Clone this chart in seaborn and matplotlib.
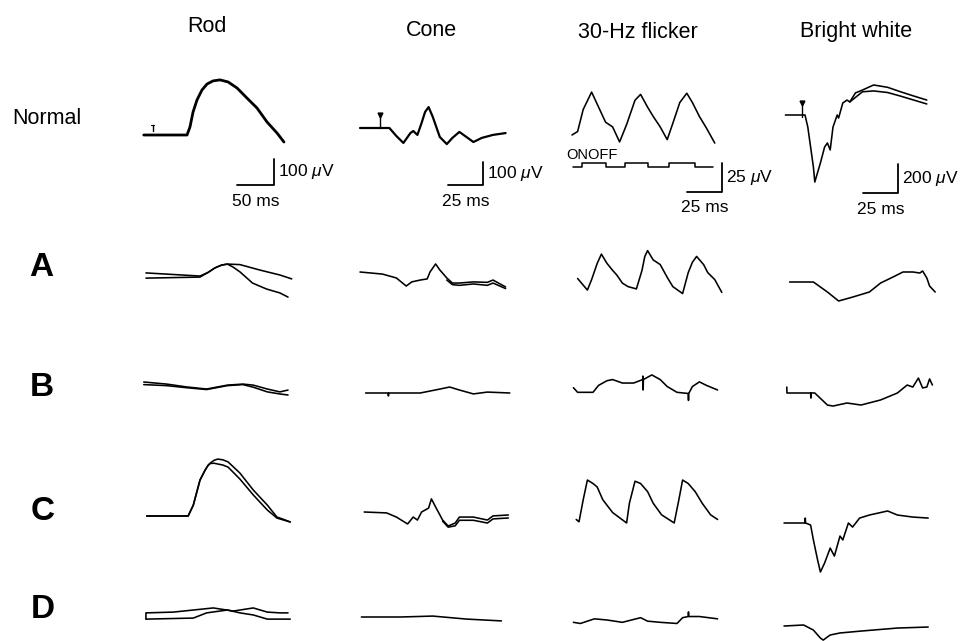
import matplotlib
matplotlib.use("Agg")
import matplotlib.pyplot as plt
import seaborn as sns

sns.set_style("white")
plt.rcParams["font.family"] = ["Liberation Sans", "DejaVu Sans"]
plt.rcParams["text.color"] = "black"
plt.rcParams["mathtext.fontset"] = "custom"
plt.rcParams["mathtext.rm"] = "Liberation Sans"
plt.rcParams["mathtext.it"] = "Liberation Sans:italic"

W, H = 969, 641

# ---------------------------------------------------------------- labels
columns = ["Rod", "Cone", "30-Hz flicker", "Bright white"]
rows = ["Normal", "A", "B", "C", "D"]

# calibration bars: time (ms) and amplitude (µV) per column
scale_ms = [50, 25, 25, 25]
scale_uv = [100, 100, 25, 200]
scale_ms_text = ["50 ms", "25 ms", "25 ms", "25 ms"]
scale_uv_text = [r"100 $\mu$V", r"100 $\mu$V", r"25 $\mu$V", r"200 $\mu$V"]

# ---------------------------------------------------------------- sweeps
# time in ms from the start of the sweep, amplitude in µV from baseline
# Rod
rod_n_t = [1, 13, 59.5, 63.5, 67.6, 73, 79.7, 86.5, 94.6, 104, 115, 127, 140.5, 154, 167.6, 181, 190.5]
rod_n_v = [0, 0, 0, 31, 88, 135, 173, 196, 208, 212, 204, 181, 142, 104, 50, 8, -27]
rod_a1_t = [4, 77, 88, 97, 106, 114, 131, 158, 185, 201]
rod_a1_v = [8, -4, 10, 27, 38, 42, 40, 19, 0, -15]
rod_a2_t = [4, 77, 88, 97, 106, 114, 122, 131, 148, 167, 185, 196]
rod_a2_v = [-12, -8, 10, 27, 38, 42, 30, 12, -31, -54, -69, -85]
rod_b1_t = [1, 32, 59, 86, 114, 135, 149, 168, 185, 196]
rod_b1_v = [0, -8, -19, -27, -12, -8, -12, -27, -38, -31]
rod_b2_t = [1, 32, 59, 86, 114, 135, 149, 168, 185, 196]
rod_b2_v = [-10, -14, -22, -29, -14, -10, -20, -38, -46, -50]
rod_c1_t = [5, 61, 68, 77, 84, 88, 91, 96, 101, 108, 115, 131, 149, 168, 181, 189, 199]
rod_c1_v = [0, 0, 42, 138, 177, 195, 204, 214, 219, 216, 208, 165, 100, 42, -4, -12, -23]
rod_c2_t = [5, 61, 68, 77, 84, 88, 91, 96, 101, 108, 115, 131, 149, 168, 181, 199]
rod_c2_v = [0, 0, 42, 138, 177, 195, 202, 203, 200, 196, 188, 142, 81, 23, -8, -23]
rod_d1_t = [4, 4, 41, 95, 122, 149, 168, 185, 196]
rod_d1_v = [-12, 12, 15, 31, 19, 31, 15, 12, 12]
rod_d2_t = [4, 68, 86, 114, 131, 149, 168, 199]
rod_d2_v = [-12, -8, 12, 23, 12, 4, -12, -12]

# Cone
cone_n_t = [0, 14, 21, 26, 31, 36, 38, 41, 44, 46.5, 49, 52, 57, 62, 66, 71, 76, 81, 87, 95, 104]
cone_n_v = [0, 0, 0, -35, -65, -22, -13, -30, 22, 70, 91, 48, -39, -70, -43, -17, -39, -61, -43, -30, -22]
cone_a1_t = [0, 16, 26, 33, 37, 43, 48, 50, 54, 57, 62, 66, 71, 81, 91, 95, 104]
cone_a1_v = [0, -9, -26, -61, -43, -35, -30, 0, 35, 9, -26, -48, -48, -43, -45, -35, -65]
cone_a2_t = [62, 66, 71, 81, 91, 95, 104]
cone_a2_v = [-35, -55, -58, -52, -58, -48, -72]
cone_b_t = [4, 20, 20.3, 20.6, 43, 57, 64, 71, 81, 91, 107]
cone_b_v = [0, 0, -13, 0, 0, 17, 26, 13, -4, 4, 0]
cone_c1_t = [3, 19, 26, 34, 38, 41, 44, 49, 51, 54, 59, 63, 68, 71, 81, 91, 95, 106]
cone_c1_v = [0, -4, -22, -52, -22, -35, 0, 17, 57, 22, -35, -61, -48, -22, -22, -35, -17, -13]
cone_c2_t = [59, 63, 68, 71, 81, 91, 95, 106]
cone_c2_v = [-40, -66, -60, -36, -36, -48, -30, -26]
cone_d_t = [1, 29, 52, 76, 101]
cone_d_v = [0, 0, 4, -9, -17]

# 30-Hz flicker
flk_n_t = [0, 4, 8, 14, 19, 24, 29, 34, 39, 45, 49, 54, 58, 63, 68, 72, 77, 82, 86, 91, 96, 102]
flk_n_v = [0, 3, 22, 37, 24, 11, 7, -6, 9, 30, 35, 24, 16, 7, -4, 10, 28, 36, 28, 16, 6, -7]
flk_a_t = [4, 11, 14, 18, 21, 25, 29, 32, 36, 40, 46, 50, 52, 54, 58, 63, 68, 72, 79, 83,
           86, 89, 94, 97, 102, 107]
flk_a_v = [-3, -13, -4, 10, 18, 10, 4, 0, -7, -10, -12, 4, 16, 21, 13, 9, -2, -10, -16, 2,
           11, 16, 9, 2, -4, -15]
flk_b_t = [1, 4, 15, 19, 25, 29, 36, 44, 50.5, 50.6, 50.8, 51, 57, 63, 68, 75, 83, 83.2, 83.4,
           86, 91, 96, 104]
flk_b_v = [2, -2, -2, 4, 8, 9, 6, 6, 9, 12, 0, 9, 13, 9, 3, -2, -3, -9, -3, 3, 7, 4, 0]
flk_c_t = [3, 5, 8, 11, 15, 18, 22, 29, 39, 41, 45, 49, 54, 58, 64, 73, 76, 79, 83, 88, 93, 99, 104]
flk_c_v = [-3, -5, 14, 31, 28, 25, 14, 3, -6, 11, 30, 28, 21, 11, 1, -6, 12, 31, 28, 21, 11, 1, -3]
flk_d_t = [1, 6, 16, 25, 36, 49, 54, 63, 75, 79, 83, 83.2, 83.4, 91, 104]
flk_d_v = [-2, -3, 1, 0, -2, 2, -1, -2, -3, 2, 3, 7, 3, 3, 1]

# flicker stimulus monitor: switching times (ms) and state (1 = ON)
flk_stim_t = [1, 7, 24, 38, 54, 69, 88, 101]
flk_stim_on = [0, 1, 0, 1, 0, 1, 0, 0]
flk_stim_level = [-28, -24]

# Bright white
brt_n1_t = [1, 15, 17, 21, 22, 26, 29, 31, 33, 35, 38, 39, 42, 45, 47, 51, 56, 64, 74, 83, 92, 102]
brt_n1_v = [0, 0, -83, -359, -462, -331, -221, -193, -241, -83, 0, -21, 83, 103, 90, 152, 172,
            207, 191, 161, 133, 103]
brt_n2_t = [47, 56, 64, 74, 83, 92, 102]
brt_n2_v = [90, 160, 166, 155, 131, 105, 76]
brt_a_t = [4, 21, 31, 39, 49, 61, 69, 78, 85, 92, 97, 99, 102, 104, 108]
brt_a_v = [0, 0, -69, -131, -104, -69, -7, 35, 69, 69, 62, 76, 28, -28, -69]
brt_b_t = [2, 2.1, 19, 19.2, 19.4, 22, 31, 35, 45, 55, 69, 81, 88, 92, 96, 99, 102, 104, 106]
brt_b_v = [41, 0, 0, -35, 0, 0, -83, -90, -69, -83, -48, 0, 55, 41, 103, 35, 41, 97, 55]
brt_c_t = [0, 15, 15.2, 15.4, 19, 21, 24, 26, 29, 33, 36, 40, 42, 46, 49, 54, 61, 74, 81, 92, 103]
brt_c_v = [0, 0, 34, 0, -14, -117, -255, -338, -276, -173, -228, -90, -117, 0, -28, 34, 55, 83,
           55, 41, 34]
brt_d_t = [0, 14, 21, 26, 28, 33, 40, 56, 81, 103]
brt_d_v = [-7, 0, -35, -90, -104, -69, -55, -41, -21, -14]

# stimulus markers on the normal sweeps: time (ms), tick bottom/top (µV)
stim_t = [13, 14, None, 13]
stim_lo = [15, 0, None, -15]
stim_hi = [40, 55, None, 83]

traces = {
    ("Normal", "Rod"): [(rod_n_t, rod_n_v)],
    ("A", "Rod"): [(rod_a1_t, rod_a1_v), (rod_a2_t, rod_a2_v)],
    ("B", "Rod"): [(rod_b1_t, rod_b1_v), (rod_b2_t, rod_b2_v)],
    ("C", "Rod"): [(rod_c1_t, rod_c1_v), (rod_c2_t, rod_c2_v)],
    ("D", "Rod"): [(rod_d1_t, rod_d1_v), (rod_d2_t, rod_d2_v)],
    ("Normal", "Cone"): [(cone_n_t, cone_n_v)],
    ("A", "Cone"): [(cone_a1_t, cone_a1_v), (cone_a2_t, cone_a2_v)],
    ("B", "Cone"): [(cone_b_t, cone_b_v)],
    ("C", "Cone"): [(cone_c1_t, cone_c1_v), (cone_c2_t, cone_c2_v)],
    ("D", "Cone"): [(cone_d_t, cone_d_v)],
    ("Normal", "30-Hz flicker"): [(flk_n_t, flk_n_v)],
    ("A", "30-Hz flicker"): [(flk_a_t, flk_a_v)],
    ("B", "30-Hz flicker"): [(flk_b_t, flk_b_v)],
    ("C", "30-Hz flicker"): [(flk_c_t, flk_c_v)],
    ("D", "30-Hz flicker"): [(flk_d_t, flk_d_v)],
    ("Normal", "Bright white"): [(brt_n1_t, brt_n1_v), (brt_n2_t, brt_n2_v)],
    ("A", "Bright white"): [(brt_a_t, brt_a_v)],
    ("B", "Bright white"): [(brt_b_t, brt_b_v)],
    ("C", "Bright white"): [(brt_c_t, brt_c_v)],
    ("D", "Bright white"): [(brt_d_t, brt_d_v)],
}

# ---------------------------------------------------------------- layout (pixels)
col_x0 = [143, 360, 572, 784]            # sweep start
px_per_ms = [0.74, 1.4, 1.4, 1.4]
px_per_uv = [0.26, 0.23, 1.16, 0.145]
base_y = {                                # baseline of each panel
    "Normal": [135, 128, 135, 115],
    "A": [275, 272, 275, 282],
    "B": [382, 393, 390, 393],
    "C": [516, 512, 516, 523],
    "D": [616, 617, 620, 625],
}
title_xy = [(207, 27), (431, 30), (638, 32), (856, 32)]
row_label_xy = {"Normal": (47, 118), "A": (41, 268), "B": (42, 387), "C": (43, 512), "D": (43, 610)}
bar_corner = [(274, 185), (483, 185), (722, 192), (898, 193)]

fig = plt.figure(figsize=(W / 100, H / 100), dpi=100)
fig.patch.set_facecolor("white")


def panel_axes(ci, row):
    x0, y0 = col_x0[ci], base_y[row][ci]
    sx, sy = px_per_ms[ci], px_per_uv[ci]
    left, right = x0 - 20, x0 + 200
    top, bottom = y0 - 100, y0 + 90
    ax = fig.add_axes([left / W, 1 - bottom / H, (right - left) / W, (bottom - top) / H])
    ax.set_xlim((left - x0) / sx, (right - x0) / sx)
    ax.set_ylim((y0 - bottom) / sy, (y0 - top) / sy)
    ax.axis("off")
    ax.patch.set_alpha(0)
    return ax


def to_data(ci, row, px, py):
    return ((px - col_x0[ci]) / px_per_ms[ci], (base_y[row][ci] - py) / px_per_uv[ci])


for ci, col in enumerate(columns):
    for row in rows:
        ax = panel_axes(ci, row)
        lw = 2.0 if (row == "Normal" and col == "Rod") else 1.15
        if row == "Normal" and col == "Cone":
            lw = 1.6
        for t, v in traces[(row, col)]:
            sns.lineplot(x=t, y=v, ax=ax, color="black", lw=lw, sort=False,
                         estimator=None, legend=False)

        if row != "Normal":
            continue

        # stimulus marker
        if stim_t[ci] is not None:
            ax.plot([stim_t[ci], stim_t[ci]], [stim_lo[ci], stim_hi[ci]], color="black", lw=1.0)
            if col != "Rod":
                ax.plot([stim_t[ci]], [stim_hi[ci]], marker="v", ms=3.5, color="black")
            else:
                ax.plot([stim_t[ci] - 2, stim_t[ci] + 2], [stim_hi[ci]] * 2, color="black", lw=0.8)

        # flicker stimulus monitor
        if col == "30-Hz flicker":
            levels = [flk_stim_level[s] for s in flk_stim_on]
            ax.step(flk_stim_t, levels, where="post", color="black", lw=1.1)
            tx, ty = to_data(ci, row, 566, 155)
            ax.text(tx, ty, "ONOFF", fontsize=10.5, ha="left", va="center")

        # calibration bar
        cx, cy = to_data(ci, row, *bar_corner[ci])
        ax.plot([cx - scale_ms[ci], cx, cx], [cy, cy, cy + scale_uv[ci]], color="black", lw=1.3)
        ax.annotate(scale_uv_text[ci], xy=(cx, cy + scale_uv[ci] / 2), xytext=(4, 0),
                    textcoords="offset pixels", ha="left", va="center", fontsize=12.5)
        ax.annotate(scale_ms_text[ci], xy=(cx - scale_ms[ci] / 2, cy), xytext=(0, -16),
                    textcoords="offset pixels", ha="center", va="center", fontsize=12.5)

# column headings and row labels
for ci, col in enumerate(columns):
    x, y = title_xy[ci]
    fig.text(x / W, 1 - y / H, col, ha="center", va="center", fontsize=15.5)
for row in rows:
    x, y = row_label_xy[row]
    if row == "Normal":
        fig.text(x / W, 1 - y / H, row, ha="center", va="center", fontsize=15.5)
    else:
        fig.text(x / W, 1 - y / H, row, ha="center", va="center", fontsize=24, fontweight="bold")

fig.savefig("out.png", dpi=100, facecolor="white")
